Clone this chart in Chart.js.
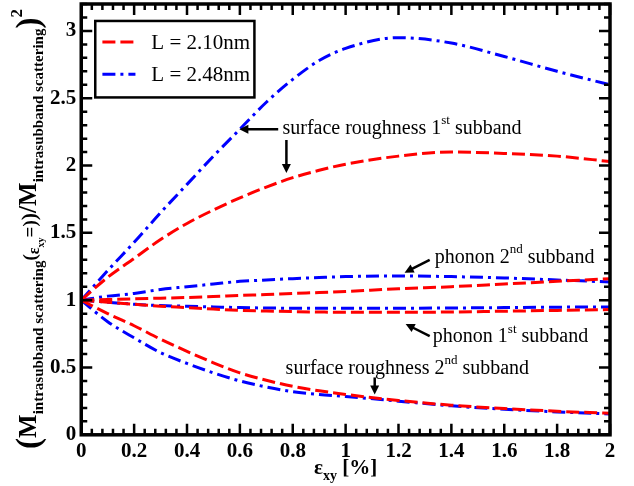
<!DOCTYPE html>
<html>
<head>
<meta charset="utf-8">
<script src="https://cdn.jsdelivr.net/npm/chart.js@4.4.1/dist/chart.umd.min.js"></script>
<style>
	html, body { margin: 0; padding: 0; background: #fff; }
	#wrap { width: 634px; height: 486px; }
</style>
</head>
<body>
<div id="wrap"><canvas id="myChart"></canvas></div>
<script>
// strain eps_xy [%]
var strain = [0, 0.1, 0.2, 0.3, 0.4, 0.5, 0.6, 0.7, 0.8, 0.9, 1.0, 1.2, 1.4, 1.6, 1.8, 2.0];

// L = 2.10nm (red dashed)
var sr1L210 = [1, 1.17, 1.31, 1.45, 1.57, 1.67, 1.76, 1.84, 1.91, 1.965, 2.01, 2.07, 2.10, 2.09, 2.07, 2.03];
var ph2L210 = [1, 1.005, 1.01, 1.015, 1.02, 1.027, 1.035, 1.042, 1.05, 1.057, 1.065, 1.085, 1.10, 1.12, 1.14, 1.16];
var ph1L210 = [1, 0.985, 0.97, 0.955, 0.945, 0.934, 0.925, 0.919, 0.915, 0.912, 0.91, 0.91, 0.912, 0.918, 0.924, 0.93];
var sr2L210 = [1, 0.9, 0.81, 0.71, 0.62, 0.535, 0.46, 0.405, 0.36, 0.327, 0.30, 0.255, 0.22, 0.195, 0.175, 0.16];

// L = 2.48nm (blue dash-dot)
var sr1L248 = [1, 1.22, 1.43, 1.65, 1.86, 2.07, 2.27, 2.47, 2.64, 2.78, 2.87, 2.95, 2.91, 2.81, 2.70, 2.60];
var ph2L248 = [1, 1.03, 1.05, 1.08, 1.10, 1.12, 1.14, 1.15, 1.16, 1.168, 1.175, 1.18, 1.175, 1.165, 1.15, 1.135];
var ph1L248 = [1, 0.985, 0.97, 0.96, 0.955, 0.95, 0.945, 0.942, 0.94, 0.94, 0.94, 0.94, 0.942, 0.945, 0.948, 0.95];
var sr2L248 = [1, 0.84, 0.72, 0.61, 0.53, 0.46, 0.40, 0.355, 0.32, 0.30, 0.285, 0.25, 0.215, 0.19, 0.17, 0.155];

var legendLabels = ['L = 2.10nm', 'L = 2.48nm'];
var xTicks = [0, 0.2, 0.4, 0.6, 0.8, 1, 1.2, 1.4, 1.6, 1.8, 2];
var yTicks = [0, 0.5, 1, 1.5, 2, 2.5, 3];

var RED = 'rgb(255, 0, 0)';
var BLUE = 'rgb(0, 0, 255)';
var redDash = [13, 5];
var blueDash = [13, 5, 3, 5];
var serif = '"Liberation Serif", "Times New Roman", serif';

function pts(ys) {
	return strain.map(function (x, i) { return { x: x, y: ys[i] }; });
};
function line(ys, color, dash) {
	return {
		data: pts(ys),
		borderColor: color,
		borderWidth: 3,
		borderDash: dash,
		pointRadius: 0,
		fill: false,
		cubicInterpolationMode: 'monotone'
	};
};

// draws text pieces: [text, size, dy]  (dy shifts baseline, + = down)
function drawPieces(ctx, pieces, x, y, weight) {
	var cx = x;
	for (let i = 0; i < pieces.length; i++) {
		var p = pieces[i];
		ctx.font = weight + ' ' + p[1] + 'px ' + serif;
		ctx.fillText(p[0], cx, y + p[2]);
		cx += ctx.measureText(p[0]).width;
	}
	return cx - x;
};
function piecesWidth(ctx, pieces, weight) {
	var w = 0;
	for (let i = 0; i < pieces.length; i++) {
		ctx.font = weight + ' ' + pieces[i][1] + 'px ' + serif;
		w += ctx.measureText(pieces[i][0]).width;
	}
	return w;
};
function arrow(ctx, x1, y1, x2, y2) {
	var a = Math.atan2(y2 - y1, x2 - x1);
	var h = 9;
	ctx.beginPath();
	ctx.moveTo(x1, y1);
	ctx.lineTo(x2 - Math.cos(a) * h * 0.8, y2 - Math.sin(a) * h * 0.8);
	ctx.lineWidth = 2.5;
	ctx.stroke();
	ctx.beginPath();
	ctx.moveTo(x2, y2);
	ctx.lineTo(x2 - h * Math.cos(a) + 4.5 * Math.sin(a), y2 - h * Math.sin(a) - 4.5 * Math.cos(a));
	ctx.lineTo(x2 - h * Math.cos(a) - 4.5 * Math.sin(a), y2 - h * Math.sin(a) + 4.5 * Math.cos(a));
	ctx.closePath();
	ctx.fill();
};

var decorations = {
	id: 'decorations',
	afterDatasetsDraw: function (chart) {
		var ctx = chart.ctx;
		var a = chart.chartArea;
		var xs = chart.scales.x, ys = chart.scales.y;
		var X = function (v) { return xs.getPixelForValue(v); };
		var Y = function (v) { return ys.getPixelForValue(v); };
		ctx.save();
		ctx.fillStyle = '#000';
		ctx.strokeStyle = '#000';

		// inward ticks on all four sides
		ctx.lineWidth = 2.5;
		ctx.beginPath();
		for (let i = 0; i <= 50; i++) {
			var v = i * 0.04;
			var len = (i % 5 === 0) ? 11 : 6;
			ctx.moveTo(X(v), a.bottom); ctx.lineTo(X(v), a.bottom - len);
			ctx.moveTo(X(v), a.top); ctx.lineTo(X(v), a.top + len);
		}
		for (let i = 0; i <= 32; i++) {
			var v = i * 0.1;
			var len = (i % 5 === 0) ? 11 : 6;
			ctx.moveTo(a.left, Y(v)); ctx.lineTo(a.left + len, Y(v));
			ctx.moveTo(a.right, Y(v)); ctx.lineTo(a.right - len, Y(v));
		}
		ctx.stroke();
		ctx.lineWidth = 3.5;
		ctx.strokeRect(a.left, a.top, a.right - a.left, a.bottom - a.top);

		// legend box
		var bx1 = X(0.053), bx2 = X(0.655), by1 = Y(3.074), by2 = Y(2.506);
		ctx.fillStyle = '#fff';
		ctx.fillRect(bx1, by1, bx2 - bx1, by2 - by1);
		ctx.lineWidth = 2.5;
		ctx.strokeRect(bx1, by1, bx2 - bx1, by2 - by1);
		var rows = [[2.917, RED, redDash], [2.678, BLUE, blueDash]];
		for (let i = 0; i < rows.length; i++) {
			var ly = Y(rows[i][0]);
			ctx.beginPath();
			ctx.setLineDash(rows[i][2]);
			ctx.strokeStyle = rows[i][1];
			ctx.lineWidth = 3;
			ctx.moveTo(X(0.08), ly); ctx.lineTo(X(0.205), ly);
			ctx.stroke();
			ctx.setLineDash([]);
			ctx.fillStyle = '#000';
			ctx.font = '21px ' + serif;
			ctx.textBaseline = 'middle';
			ctx.fillText(legendLabels[i], X(0.265), ly + 1);
		}
		ctx.strokeStyle = '#000';
		ctx.fillStyle = '#000';

		// annotations
		ctx.textBaseline = 'middle';
		drawPieces(ctx, [['surface roughness 1', 20, 0], ['st', 13, -8], [' subband', 20, 0]], X(0.761), Y(2.274), 'normal');
		arrow(ctx, X(0.745), Y(2.27), X(0.598), Y(2.27));
		arrow(ctx, X(0.776), Y(2.19), X(0.776), Y(1.945));

		drawPieces(ctx, [['phonon 2', 20, 0], ['nd', 13, -8], [' subband', 20, 0]], X(1.337), Y(1.316), 'normal');
		arrow(ctx, X(1.318), Y(1.30), X(1.223), Y(1.204));

		drawPieces(ctx, [['phonon 1', 20, 0], ['st', 13, -8], [' subband', 20, 0]], X(1.33), Y(0.725), 'normal');
		arrow(ctx, X(1.318), Y(0.733), X(1.227), Y(0.823));

		drawPieces(ctx, [['surface roughness 2', 20, 0], ['nd', 13, -8], [' subband', 20, 0]], X(0.773), Y(0.494), 'normal');
		arrow(ctx, X(1.11), Y(0.426), X(1.11), Y(0.30));

		// x axis title
		var xt = [['\u03b5', 21, 0], ['xy', 14, 6], [' [%]', 21, 0]];
		var w = piecesWidth(ctx, xt, 'bold');
		ctx.textBaseline = 'alphabetic';
		drawPieces(ctx, xt, (a.left + a.right) / 2 - w / 2, 474, 'bold');

		// y axis title, rotated
		var yt = [
			['(', 33, 3], ['M', 25, 0], ['intrasubband scattering', 15, 7],
			['(', 19, 0], ['\u03b5', 16, 3], ['xy', 10, 8], ['=)', 19, 0], [')', 22, 0],
			['/M', 25, 0], ['intrasubband scattering', 15, 7], [')', 33, 3], ['2', 17, -14]
		];
		var wy = piecesWidth(ctx, yt, 'bold');
		ctx.translate(36, 229);
		ctx.rotate(-Math.PI / 2);
		drawPieces(ctx, yt, -wy / 2, 0, 'bold');
		ctx.restore();
	}
};

var ctx = document.getElementById('myChart');
var chart = new Chart(ctx, {
	type: 'line',
	data: {
		datasets: [
			line(sr1L210, RED, redDash),
			line(ph2L210, RED, redDash),
			line(ph1L210, RED, redDash),
			line(sr2L210, RED, redDash),
			line(sr1L248, BLUE, blueDash),
			line(ph2L248, BLUE, blueDash),
			line(ph1L248, BLUE, blueDash),
			line(sr2L248, BLUE, blueDash)
		]
	},
	options: {
		responsive: true,
		maintainAspectRatio: false,
		animation: false,
		layout: { padding: { left: 45, right: 24, top: 4, bottom: 18 } },
		plugins: { legend: { display: false }, tooltip: { enabled: false } },
		scales: {
			x: {
				type: 'linear',
				min: 0, max: 2,
				grid: { display: false, drawTicks: false },
				border: { display: false },
				afterBuildTicks: function (s) { s.ticks = xTicks.map(function (v) { return { value: v }; }); },
				ticks: {
					padding: 4,
					color: '#000',
					maxRotation: 0,
					font: { family: serif, size: 21, weight: 'bold' },
					callback: function (v) { return String(Math.round(v * 10) / 10); }
				}
			},
			y: {
				min: 0, max: 3.2,
				grid: { display: false, drawTicks: false },
				border: { display: false },
				afterBuildTicks: function (s) { s.ticks = yTicks.map(function (v) { return { value: v }; }); },
				afterFit: function (s) { s.paddingTop = 0; },
				ticks: {
					padding: 5,
					color: '#000',
					font: { family: serif, size: 21, weight: 'bold' },
					callback: function (v) { return String(v); }
				}
			}
		}
	},
	plugins: [decorations]
});
</script>
</body>
</html>
